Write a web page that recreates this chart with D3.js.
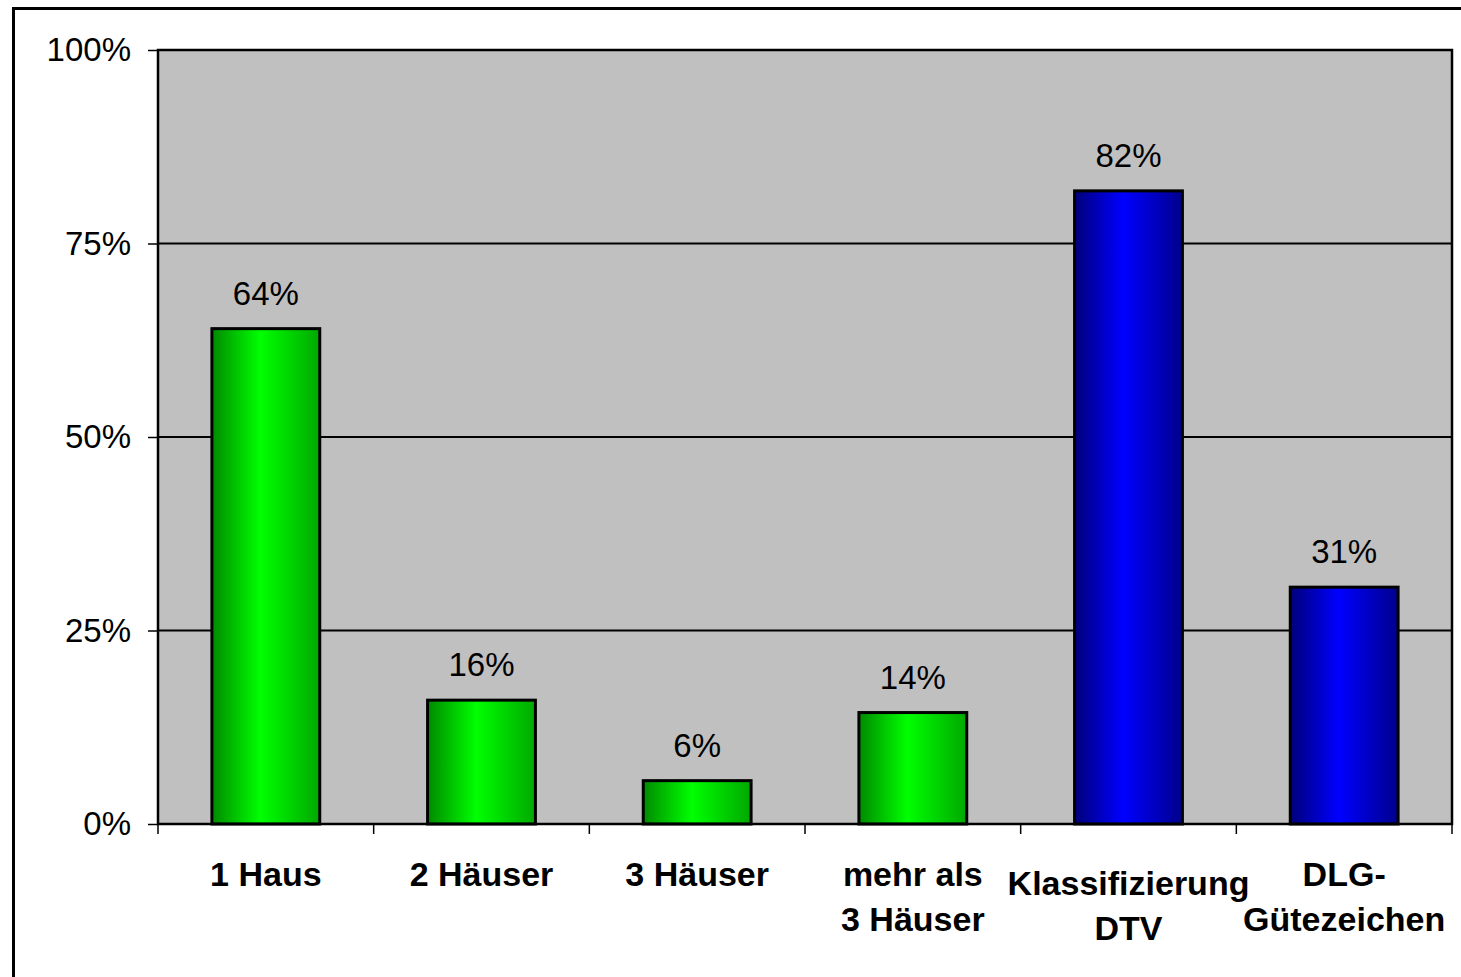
<!DOCTYPE html>
<html>
<head>
<meta charset="utf-8">
<script src="https://cdn.jsdelivr.net/npm/d3@7"></script>
<style>
  body { margin: 0; background: #fff; }
  svg { display: block; font-family: "Liberation Sans", Arial, sans-serif; }
</style>
</head>
<body>
<script>
// categories (lines of each x label)
var categories = [["1 Haus"], ["2 Häuser"], ["3 Häuser"], ["mehr als", "3 Häuser"], ["Klassifizierung", "DTV"], ["DLG-", "Gütezeichen"]];
// share in percent
var values = [64, 16, 5.6, 14.4, 81.8, 30.6];
// which group a bar belongs to (green / blue)
var groups = ["haus", "haus", "haus", "haus", "quali", "quali"];
var yTicks = [0, 25, 50, 75, 100];

var W = 1461, H = 977;
var pLeft = 158, pTop = 50, pRight = 1452, pBottom = 824;

var svg = d3.select("body").append("svg")
    .attr("width", W)
    .attr("height", H);

var defs = svg.append("defs");
function grad(id, dark, light, dark2) {
  var g = defs.append("linearGradient").attr("id", id)
      .attr("x1", "0%").attr("x2", "100%").attr("y1", "0%").attr("y2", "0%");
  g.append("stop").attr("offset", "0%").attr("stop-color", dark);
  g.append("stop").attr("offset", "45%").attr("stop-color", light);
  g.append("stop").attr("offset", "100%").attr("stop-color", dark2);
}
grad("g-haus", "#008a00", "#00ff00", "#00a800");
grad("g-quali", "#00007a", "#0000ff", "#00008c");

// outer frame (runs off the picture on the right and bottom)
svg.append("rect")
    .attr("x", 13.5).attr("y", 8.5)
    .attr("width", W + 20).attr("height", H + 20)
    .attr("fill", "none").attr("stroke", "#000").attr("stroke-width", 3);

var x = d3.scaleBand()
    .domain(d3.range(categories.length))
    .range([pLeft, pRight])
    .paddingInner(0.5)
    .paddingOuter(0.25);

var y = d3.scaleLinear().domain([0, 100]).range([pBottom, pTop]);

// plot area
svg.append("rect")
    .attr("x", pLeft).attr("y", pTop)
    .attr("width", pRight - pLeft).attr("height", pBottom - pTop)
    .attr("fill", "#c0c0c0");

// gridlines
svg.selectAll("line.grid")
    .data(yTicks.filter(function(d) { return d > 0 && d < 100; }))
    .enter().append("line")
    .attr("class", "grid")
    .attr("x1", pLeft).attr("x2", pRight)
    .attr("y1", function(d) { return y(d); })
    .attr("y2", function(d) { return y(d); })
    .attr("stroke", "#000").attr("stroke-width", 2);

// bars
svg.selectAll("rect.bar")
    .data(values)
    .enter().append("rect")
    .attr("class", "bar")
    .attr("x", function(d, i) { return x(i); })
    .attr("y", function(d) { return y(d); })
    .attr("width", x.bandwidth())
    .attr("height", function(d) { return y(0) - y(d); })
    .attr("fill", function(d, i) { return "url(#g-" + groups[i] + ")"; })
    .attr("stroke", "#000").attr("stroke-width", 3);

// value labels
svg.selectAll("text.val")
    .data(values)
    .enter().append("text")
    .attr("class", "val")
    .attr("x", function(d, i) { return x(i) + x.bandwidth() / 2; })
    .attr("y", function(d) { return y(d) - 24; })
    .attr("text-anchor", "middle")
    .attr("font-size", 33)
    .attr("fill", "#000")
    .text(function(d) { return Math.round(d) + "%"; });

// plot border
svg.append("rect")
    .attr("x", pLeft).attr("y", pTop)
    .attr("width", pRight - pLeft).attr("height", pBottom - pTop)
    .attr("fill", "none").attr("stroke", "#000").attr("stroke-width", 2.5);

// y axis
var yAxis = d3.axisLeft(y)
    .tickValues(yTicks)
    .tickFormat(function(d) { return d + "%"; })
    .tickSize(10)
    .tickPadding(17);
var ya = svg.append("g").attr("transform", "translate(" + pLeft + ",0)").call(yAxis);
ya.select(".domain").remove();
ya.selectAll("line").attr("stroke", "#000").attr("stroke-width", 1.5);
ya.selectAll("text")
    .attr("font-size", 33)
    .attr("font-family", "Liberation Sans, Arial, sans-serif")
    .attr("fill", "#000");

// x axis ticks at category boundaries
var bounds = d3.range(categories.length + 1).map(function(i) { return pLeft + i * x.step(); });
svg.selectAll("line.xtick")
    .data(bounds)
    .enter().append("line")
    .attr("class", "xtick")
    .attr("x1", function(d) { return d; }).attr("x2", function(d) { return d; })
    .attr("y1", pBottom).attr("y2", pBottom + 10)
    .attr("stroke", "#000").attr("stroke-width", 1.5);

// x labels
var xl = svg.selectAll("text.xlab")
    .data(categories)
    .enter().append("text")
    .attr("class", "xlab")
    .attr("x", function(d, i) { return x(i) + x.bandwidth() / 2; })
    .attr("y", function(d, i) { return i === 4 ? 895 : 886; })
    .attr("text-anchor", "middle")
    .attr("font-size", 34)
    .attr("font-weight", "bold")
    .attr("fill", "#000");
xl.selectAll("tspan")
    .data(function(d) { return d; })
    .enter().append("tspan")
    .attr("x", function() { return d3.select(this.parentNode).attr("x"); })
    .attr("dy", function(d, j) { return j === 0 ? 0 : 45; })
    .text(function(d) { return d; });
</script>
</body>
</html>
